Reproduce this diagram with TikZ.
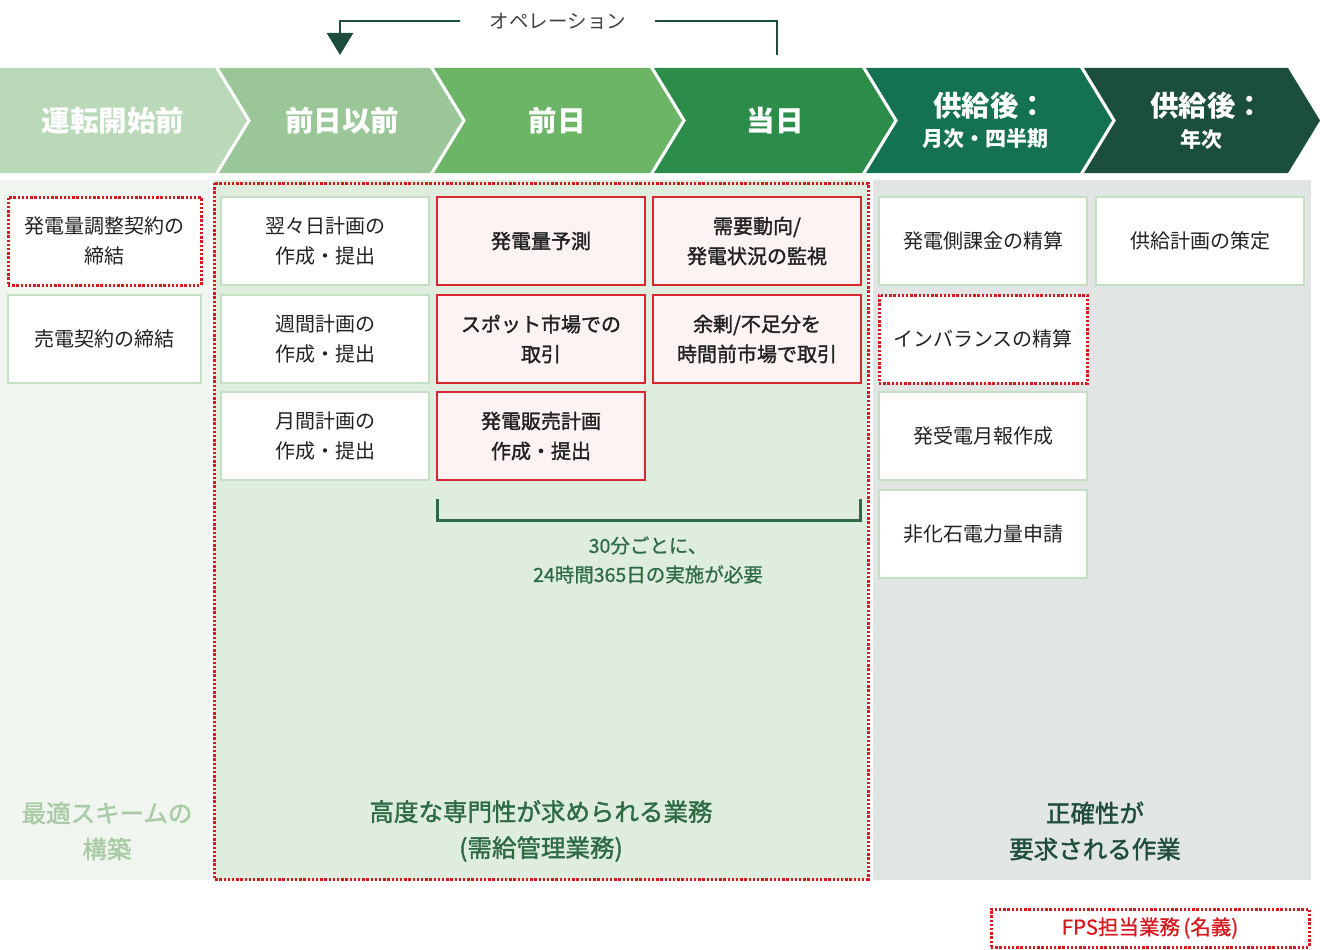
\documentclass[tikz,border=0pt]{standalone}
\usepackage{fontspec}
\setmainfont{Noto Sans CJK JP}
\newfontfamily\medfont{Noto Sans CJK JP}[FakeBold=1.6]
\newfontfamily\semifont{Noto Sans CJK JP}[FakeBold=0.8]
\usetikzlibrary{arrows.meta}
\definecolor{chA}{HTML}{B9D9B8}
\definecolor{chB}{HTML}{9BC697}
\definecolor{chC}{HTML}{6CB567}
\definecolor{chD}{HTML}{2B8D49}
\definecolor{chE}{HTML}{147152}
\definecolor{chF}{HTML}{1C4E3C}
\definecolor{bgA}{HTML}{F0F6EF}
\definecolor{bgB}{HTML}{DEEDDD}
\definecolor{bgC}{HTML}{E1E6E4}
\definecolor{boxline}{HTML}{C5DFC2}
\definecolor{pinkfill}{HTML}{FDF3F3}
\definecolor{redline}{HTML}{D9272E}
\definecolor{dotred}{HTML}{D7191F}
\definecolor{txt}{HTML}{222222}
\definecolor{dkgreen}{HTML}{2E6B45}
\definecolor{ltgreen}{HTML}{A8CBA6}
\definecolor{dkteal}{HTML}{1F4D3A}
\definecolor{opline}{HTML}{1D4D3B}
\begin{document}
\begin{tikzpicture}[x=1pt,y=-1pt,
  hdr/.style={text=white,font=\fontsize{28.5}{33}\bfseries\selectfont,align=center,inner sep=0pt},
  hdrsub/.style={text=white,font=\fontsize{21}{24}\bfseries\selectfont,align=center,inner sep=0pt},
  task/.style={draw=boxline,line width=1.2pt,fill=white,text=txt,align=center,
    minimum width=208pt,minimum height=88pt,inner sep=0pt,font=\fontsize{20}{30}\selectfont},
  narrow/.style={minimum width=193pt},
  core/.style={task,draw=redline,fill=pinkfill,font=\fontsize{20}{30}\medfont\selectfont},
  fps/.style={draw=dotred,line width=3pt,dash pattern=on 2.4pt off 1.8pt},
  optext/.style={text=txt!85,font=\fontsize{19.5}{22}\selectfont,inner sep=0pt},
  opstroke/.style={draw=opline,line width=2.6pt},
  lab/.style={font=\fontsize{24.5}{36}\medfont\selectfont,align=center,inner sep=0pt},
  note/.style={text=dkgreen,font=\fontsize{19.5}{29}\semifont\selectfont,align=center,inner sep=0pt}
]
\useasboundingbox (0,0) rectangle (1320,950);
\fill[white] (0,0) rectangle (1320,950);

% header chevrons
\fill[chA] (0,68) -- (215,68) -- (247,120.5) -- (215,173) -- (0,173) -- cycle;
\fill[chB] (219,68) -- (430,68) -- (462,120.5) -- (430,173) -- (219,173) -- (251,120.5) -- cycle;
\fill[chC] (434,68) -- (650,68) -- (682,120.5) -- (650,173) -- (434,173) -- (466,120.5) -- cycle;
\fill[chD] (654,68) -- (862,68) -- (894,120.5) -- (862,173) -- (654,173) -- (686,120.5) -- cycle;
\fill[chE] (866,68) -- (1080,68) -- (1112,120.5) -- (1080,173) -- (866,173) -- (898,120.5) -- cycle;
\fill[chF] (1084,68) -- (1288,68) -- (1320,120.5) -- (1288,173) -- (1084,173) -- (1116,120.5) -- cycle;

\node[hdr] (h1) at (113,121) {運転開始前};
\node[hdr] (h2) at (342,121) {前日以前};
\node[hdr] (h3) at (557,121) {前日};
\node[hdr] (h4) at (775,121) {当日};
\node[hdr] (h5) at (990,106) {供給後：};
\node[hdrsub] (h5b) at (985,139) {月次・四半期};
\node[hdr] (h6) at (1207,106) {供給後：};
\node[hdrsub] (h6b) at (1201,139) {年次};

% operation arrow
\node[optext] (op) at (558,21) {オペレーション};
\coordinate (opL) at (340,55);
\coordinate (opR) at (777,55);
\draw[opstroke,-{Triangle[width=26pt,length=22pt]}] ([xshift=-30pt]op.west) -| (opL);
\draw[opstroke] ([xshift=29pt]op.east) -| (opR);

% column backgrounds
\fill[bgA] (0,180) rectangle (210,880);
\fill[bgB] (213,180) rectangle (868,880);
\fill[bgC] (873,180) rectangle (1311,880);

% column 1
\node[task,narrow,fps] (a1) at (104.5,241) {発電量調整契約の\\締結};
\node[task,narrow] (a2) at (104.5,339) {売電契約の締結};

% column 2
\node[task] (b1) at (325,241) {翌々日計画の\\作成・提出};
\node[task] (b2) at (325,339) {週間計画の\\作成・提出};
\node[task] (b3) at (325,436) {月間計画の\\作成・提出};

% column 3
\node[core] (c1) at (541,241) {発電量予測};
\node[core] (c2) at (541,339) {スポット市場での\\取引};
\node[core] (c3) at (541,436) {発電販売計画\\作成・提出};

% column 4
\node[core] (d1) at (757,241) {需要動向/\\発電状況の監視};
\node[core] (d2) at (757,339) {余剰/不足分を\\時間前市場で取引};

% column 5
\node[task] (e1) at (983,241) {発電側課金の精算};
\node[task,fps] (e2) at (983,339) {インバランスの精算};
\node[task] (e3) at (983,436) {発受電月報作成};
\node[task] (e4) at (983,534) {非化石電力量申請};

% column 6
\node[task] (f1) at (1200,241) {供給計画の策定};

% FPS region border
\draw[fps] (214,183) rectangle (868,879);

% bracket
\draw[draw=dkgreen,line width=3pt] (437,499) -- (437,520) -- (860,520) -- (860,499);
\node[note] (n1) at (648,560) {30分ごとに、\\24時間365日の実施が必要};

% bottom labels
\node[lab,text=ltgreen] (l1) at (107,831) {最適スキームの\\構築};
\node[lab,text=dkgreen] (l2) at (541,831) {高度な専門性が求められる業務\\(需給管理業務)};
\node[lab,text=dkteal] (l3) at (1095,831) {正確性が\\要求される作業};

% legend
\node[fps,text=dotred,minimum width=318pt,minimum height=38pt,inner sep=0pt,
  font=\fontsize{20.5}{22}\semifont\selectfont] (leg) at (1150,928) {FPS担当業務\,(名義)};
\end{tikzpicture}
\end{document}
